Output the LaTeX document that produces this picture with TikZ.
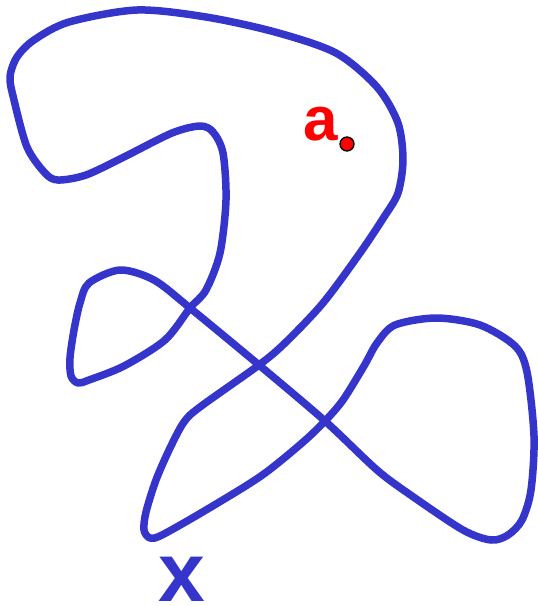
\documentclass[tikz,border=0pt]{standalone}
\usepackage{fontspec}
\setmainfont{Liberation Sans}
\definecolor{curveblue}{RGB}{53,53,204}
\begin{document}
\begin{tikzpicture}[x=1pt,y=-1pt,
  curve/.style={draw=curveblue,line width=7.5pt,line join=round},
  dot/.style={circle,fill=red,draw=black,line width=1.3pt,minimum size=14pt,inner sep=0pt},
  lbl/.style={anchor=base,inner sep=0pt,font=\bfseries\fontsize{#1}{#1}\selectfont}]
\useasboundingbox (0,0) rectangle (538,606);
\draw[curve] plot[smooth cycle,tension=0.5] coordinates {
  (323,303) (285,343) (259,365) (200,407) (184,422) (170,448) (156,480)
  (146,512) (144,530) (150,538) (162,535) (206,510) (261,476) (302,443)
  (325,421) (343,400) (364,366) (377,343) (395,325) (436,318) (480,325)
  (515,346) (527,372) (534,436) (531,490) (522,520) (508,535) (491,540)
  (463,530) (412,496) (377,470) (325,421) (259,365) (190,308)
  (154,280) (120,270) (89,283) (80,303) (74,330) (70,358) (71,376)
  (78,383) (89,380) (124,366) (165,340) (190,308) (206,290)
  (220,253) (226,200) (223,153) (213,132) (200,126) (172,133) (124,157)
  (86,175) (58,180) (45,173) (27,147) (14,100) (10,77) (17,57) (34,40)
  (69,22) (137,10) (206,17) (275,32) (336,53) (377,87) (398,123)
  (403,160) (398,193) (384,217) (360,253)
};
\node[dot] (pa) at (347,144) {};
\node[lbl=62,text=red] (la) at (321,140) {a};
\node[lbl=84,text=curveblue] (lx) at (182,601) {x};
\end{tikzpicture}
\end{document}
